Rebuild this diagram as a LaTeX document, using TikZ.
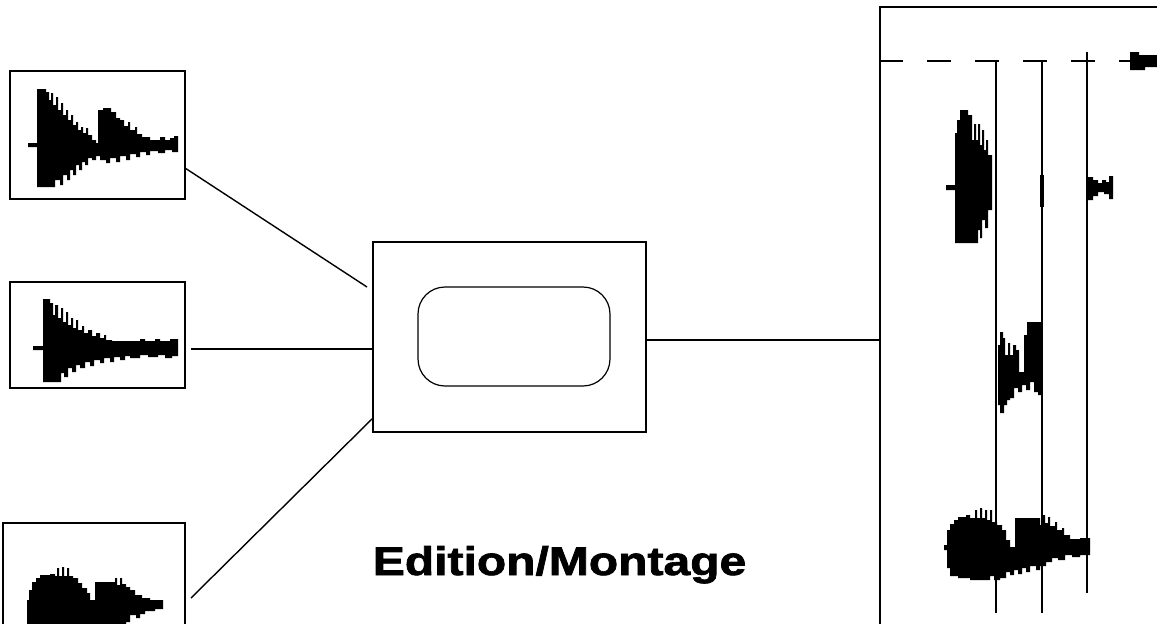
\documentclass[tikz,border=0pt]{standalone}
\usepackage{fontspec}
\newfontfamily\labelfont{Liberation Sans}[BoldFeatures={FakeBold=1.6}]
\usetikzlibrary{calc}
\begin{document}
\begin{tikzpicture}[x=1pt,y=-1pt,
  frame/.style={draw,line width=1.7pt,inner sep=0pt,outer sep=0pt,minimum width=#1},
  wire/.style={line width=1.4pt},
  cursor/.style={line width=1.7pt},
  wave/.style={fill=black}]
\useasboundingbox (0,0) rectangle (1157,624);
\clip (0,0) rectangle (1157,624);

% source sound boxes
\node[frame=175pt,minimum height=128pt] (s1) at (97.5,135) {};
\node[frame=175pt,minimum height=106pt] (s2) at (97.5,335) {};
\node[frame=182pt,minimum height=140pt] (s3) at (94,593) {};

% editing unit
\node[frame=273pt,minimum height=190pt] (mix) at (509.5,337) {};
\node[draw,line width=1.2pt,rounded corners=27pt,minimum width=192pt,minimum height=99pt,inner sep=0pt] (knob) at (514,336.5) {};

% result track
\node[frame=300pt,minimum height=660pt] (track) at (1030,337) {};

% connectors
\draw[wire] (s1.east |- {0,168}) -- ($(mix.west)+(-6,-50)$);
\draw[wire] (s2.east |- {0,349}) ++(6,0) -- (mix.west |- {0,349});
\draw[wire] (s3.east |- {0,598}) ++(6,0) -- ($(mix.west)+(0,81)$);
\draw[wire] (mix.east |- {0,340}) -- (track.west |- {0,340});

% time axis with cursor marks
\coordinate (tstart) at (track.west |- {0,61});
\coordinate (tend) at (1130,61);
\draw[line width=1.7pt,dash pattern=on 24pt off 24pt,dash phase=1pt] (tstart) -- (tend);
\fill (1130,52) -- (1139,52) -- (1139,55) -- (1157,55) -- (1157,67) -- (1145,67) -- (1145,70) -- (1130,70) -- cycle;
\coordinate (c1) at (996,61);
\coordinate (c2) at (1042,61);
\coordinate (c3) at (1087,52);
\draw[cursor] (c1) -- (996,613);
\draw[cursor] (c2) -- (1042,613);
\draw[cursor] (c3) -- (1087,593);

% waveform in first box
\fill[wave] (28,143)--(37,143)--(37,89)--(46,89)--(46,92)--(49,92)--(49,100)--(51,100)--(51,93)--(53,93)--(53,105)--(56,105)--(56,97)--(58,97)--(58,110)--(61,110)--(61,103)--(63,103)--(63,115)--(66,115)--(66,110)--(68,110)--(68,120)--(71,120)--(71,115)--(73,115)--(73,125)--(76,125)--(76,122)--(78,122)--(78,130)--(81,130)--(81,127)--(83,127)--(83,133)--(86,133)--(86,128)--(88,128)--(88,135)--(92,135)--(92,140)--(96,140)--(96,143)--(98,143)--(98,110)--(103,110)--(103,108)--(111,108)--(111,112)--(116,112)--(116,118)--(120,118)--(120,120)--(124,120)--(124,126)--(128,126)--(128,122)--(130,122)--(130,130)--(135,130)--(135,127)--(137,127)--(137,134)--(142,134)--(142,137)--(150,137)--(150,140)--(160,140)--(160,137)--(165,137)--(165,140)--(170,140)--(170,138)--(174,138)--(174,136)--(178,136)
  --(178,152)--(172,152)--(172,150)--(165,150)--(165,153)--(158,153)--(158,151)--(150,151)--(150,155)--(146,155)--(146,152)--(140,152)--(140,157)--(136,157)--(136,154)--(130,154)--(130,160)--(126,160)--(126,156)--(120,156)--(120,162)--(116,162)--(116,158)--(110,158)--(110,163)--(106,163)--(106,160)--(100,160)--(100,156)--(96,156)--(96,160)--(92,160)--(92,158)--(88,158)--(88,165)--(85,165)--(85,162)--(82,162)--(82,170)--(79,170)--(79,165)--(76,165)--(76,175)--(73,175)--(73,170)--(70,170)--(70,180)--(67,180)--(67,175)--(63,175)--(63,185)--(60,185)--(60,180)--(55,180)--(55,187)--(37,187)--(37,147)--(28,147)--cycle;

% waveform in second box
\fill[wave] (33,346)--(43,346)--(43,299)--(50,299)--(50,303)--(53,303)--(53,315)--(55,315)--(55,305)--(58,305)--(58,318)--(61,318)--(61,308)--(63,308)--(63,322)--(66,322)--(66,312)--(68,312)--(68,325)--(71,325)--(71,318)--(73,318)--(73,328)--(76,328)--(76,320)--(78,320)--(78,330)--(82,330)--(82,326)--(84,326)--(84,333)--(88,333)--(88,330)--(92,330)--(92,336)--(96,336)--(96,333)--(100,333)--(100,338)--(104,338)--(104,335)--(106,335)--(106,340)--(112,340)--(112,341)--(140,341)--(140,339)--(145,339)--(145,341)--(155,341)--(155,339)--(160,339)--(160,341)--(170,341)--(170,339)--(178,339)
  --(178,356)--(172,356)--(172,358)--(165,358)--(165,355)--(158,355)--(158,357)--(148,357)--(148,355)--(140,355)--(140,358)--(130,358)--(130,356)--(125,356)--(125,360)--(120,360)--(120,357)--(114,357)--(114,362)--(110,362)--(110,358)--(104,358)--(104,363)--(100,363)--(100,360)--(94,360)--(94,366)--(90,366)--(90,362)--(85,362)--(85,368)--(80,368)--(80,365)--(76,365)--(76,372)--(72,372)--(72,368)--(68,368)--(68,377)--(64,377)--(64,373)--(61,373)--(61,382)--(43,382)--(43,350)--(33,350)--cycle;

% waveform in third box
\fill[wave] (27,600)--(29,600)--(29,590)--(32,590)--(32,582)--(36,582)--(36,578)--(40,578)--(40,575)--(50,575)--(50,574)--(55,574)--(55,576)--(57,576)--(57,568)--(59,568)--(59,576)--(62,576)--(62,567)--(64,567)--(64,576)--(67,576)--(67,568)--(69,568)--(69,576)--(73,576)--(73,578)--(78,578)--(78,583)--(82,583)--(82,588)--(87,588)--(87,593)--(90,593)--(90,600)--(95,600)--(95,582)--(115,582)--(115,578)--(117,578)--(117,585)--(120,585)--(120,578)--(122,578)--(122,584)--(126,584)--(126,587)--(130,587)--(130,590)--(135,590)--(135,595)--(142,595)--(142,598)--(150,598)--(150,600)--(163,600)
  --(163,609)--(155,609)--(155,611)--(145,611)--(145,614)--(140,614)--(140,618)--(136,618)--(136,615)--(130,615)--(130,622)--(126,622)--(126,630)--(27,630)--cycle;

% first sound placed on the track
\fill[wave] (946,185)--(955,185)--(955,133)--(957,133)--(957,120)--(960,120)--(960,110)--(968,110)--(968,115)--(972,115)--(972,140)--(974,140)--(974,124)--(976,124)--(976,140)--(978,140)--(978,124)--(980,124)--(980,145)--(982,145)--(982,130)--(984,130)--(984,150)--(986,150)--(986,140)--(988,140)--(988,155)--(992,155)
  --(992,210)--(988,210)--(988,228)--(985,228)--(985,220)--(982,220)--(982,238)--(980,238)--(980,230)--(978,230)--(978,243)--(955,243)--(955,190)--(946,190)--cycle;
\fill[wave] (1040,175) rectangle (1044,207);
\fill[wave] (1087,177)--(1093,177)--(1093,180)--(1098,180)--(1098,183)--(1102,183)--(1102,180)--(1106,180)--(1106,182)--(1109,182)--(1109,176)--(1113,176)--(1113,199)--(1109,199)--(1109,194)--(1104,194)--(1104,192)--(1098,192)--(1098,196)--(1093,196)--(1093,200)--(1087,200)--cycle;

% second sound placed on the track
\fill[wave] (998,400)--(998,345)--(1000,345)--(1000,332)--(1003,332)--(1003,338)--(1005,338)--(1005,355)--(1008,355)--(1008,343)--(1010,343)--(1010,355)--(1013,355)--(1013,345)--(1016,345)--(1016,350)--(1019,350)--(1019,372)--(1024,372)--(1024,335)--(1027,335)--(1027,322)--(1042,322)
  --(1042,395)--(1038,395)--(1038,392)--(1034,392)--(1034,382)--(1030,382)--(1030,390)--(1026,390)--(1026,385)--(1022,385)--(1022,392)--(1018,392)--(1018,388)--(1014,388)--(1014,398)--(1010,398)--(1010,400)--(1007,400)--(1007,405)--(1004,405)--(1004,413)--(1000,413)--(1000,405)--(998,405)--cycle;

% third sound placed on the track
\fill[wave] (944,545)--(947,545)--(947,530)--(950,530)--(950,524)--(954,524)--(954,520)--(958,520)--(958,517)--(966,517)--(966,515)--(970,515)--(970,518)--(975,518)--(975,510)--(977,510)--(977,518)--(980,518)--(980,508)--(982,508)--(982,518)--(985,518)--(985,510)--(987,510)--(987,520)--(990,520)--(990,510)--(992,510)--(992,522)--(997,522)--(997,525)--(1002,525)--(1002,530)--(1006,530)--(1006,540)--(1010,540)--(1010,547)--(1015,547)--(1015,518)--(1040,518)--(1040,525)--(1043,525)--(1043,515)--(1045,515)--(1045,523)--(1048,523)--(1048,517)--(1050,517)--(1050,526)--(1055,526)--(1055,522)--(1057,522)--(1057,530)--(1062,530)--(1062,528)--(1064,528)--(1064,535)--(1070,535)--(1070,539)--(1080,539)--(1080,538)--(1090,538)
  --(1090,555)--(1080,555)--(1080,557)--(1072,557)--(1072,555)--(1065,555)--(1065,560)--(1058,560)--(1058,558)--(1052,558)--(1052,562)--(1046,562)--(1046,566)--(1040,566)--(1040,570)--(1036,570)--(1036,566)--(1030,566)--(1030,572)--(1026,572)--(1026,568)--(1022,568)--(1022,574)--(1018,574)--(1018,570)--(1014,570)--(1014,575)--(1010,575)--(1010,572)--(1006,572)--(1006,578)--(1000,578)--(1000,580)--(994,580)--(994,576)--(990,576)--(990,580)--(970,580)--(970,578)--(958,578)--(958,576)--(950,576)--(950,568)--(947,568)--(947,550)--(944,550)--cycle;

% caption
\node[anchor=base,inner sep=0pt] (lbl) at (559.5,575) {\scalebox{1.2}[1]{\labelfont\bfseries\fontsize{40pt}{40pt}\selectfont Edition/Montage}};
\end{tikzpicture}
\end{document}
